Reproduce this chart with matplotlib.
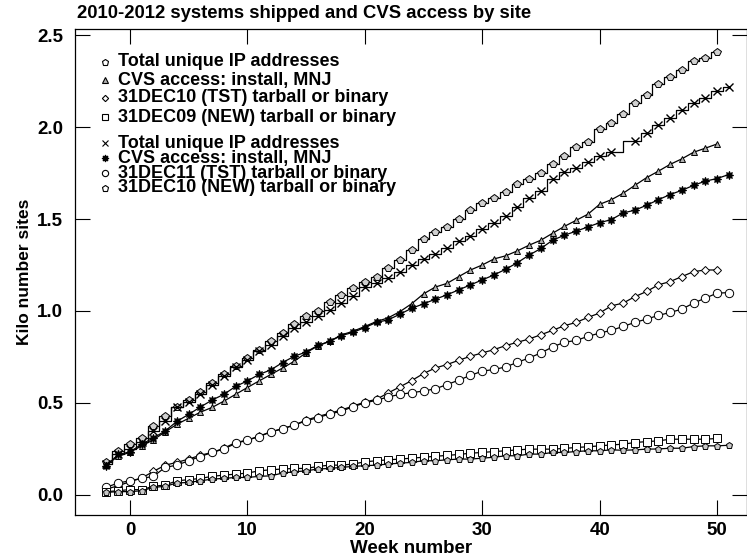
import matplotlib
matplotlib.use("Agg")
import matplotlib.pyplot as plt
import numpy as np

plt.rcParams["font.family"] = ["Liberation Sans", "DejaVu Sans"]
plt.rcParams["font.weight"] = "bold"

# weeks
weeks_a = list(range(-2, 51))
weeks_b = list(range(-2, 42)) + list(range(43, 52))
weeks_c = list(range(-2, 51))
weeks_d = list(range(-2, 52))
weeks_e = list(range(-2, 51))
weeks_f = list(range(-2, 52))
weeks_g = list(range(-2, 51))
weeks_h = list(range(-2, 52))

# Total unique IP addresses (set 1, pentagon, histogram style)
total_ip_1 = [0.18, 0.24, 0.275, 0.31, 0.375, 0.43, 0.48, 0.515, 0.557, 0.606,
              0.655, 0.70, 0.745, 0.79, 0.835, 0.88, 0.93, 0.975, 1.00, 1.05,
              1.088, 1.125, 1.16, 1.187, 1.234, 1.277, 1.33, 1.39, 1.43, 1.457,
              1.50, 1.55, 1.585, 1.614, 1.646, 1.69, 1.72, 1.75, 1.80, 1.84,
              1.89, 1.92, 1.99, 2.02, 2.07, 2.13, 2.175, 2.235, 2.27, 2.31,
              2.36, 2.377, 2.41]
# Total unique IP addresses (set 2, x, histogram style)
total_ip_2 = [0.17, 0.22, 0.25, 0.29, 0.35, 0.40, 0.476, 0.505, 0.547, 0.60,
              0.645, 0.698, 0.736, 0.78, 0.817, 0.866, 0.91, 0.938, 0.974, 1.003,
              1.044, 1.082, 1.13, 1.154, 1.18, 1.214, 1.25, 1.28, 1.31, 1.34,
              1.38, 1.407, 1.445, 1.48, 1.515, 1.564, 1.614, 1.652, 1.715, 1.753,
              1.78, 1.81, 1.84, 1.863, 1.926, 1.97, 2.013, 2.05, 2.09, 2.13,
              2.16, 2.197, 2.22]
# CVS access: install, MNJ (set 1, triangle)
cvs_1 = [0.165, 0.21, 0.232, 0.267, 0.30, 0.343, 0.384, 0.417, 0.45, 0.476,
         0.51, 0.547, 0.584, 0.62, 0.655, 0.69, 0.727, 0.773, 0.81, 0.835,
         0.87, 0.89, 0.916, 0.943, 0.963, 0.997, 1.04, 1.093, 1.13, 1.15,
         1.187, 1.223, 1.25, 1.283, 1.30, 1.327, 1.358, 1.385, 1.423, 1.46,
         1.493, 1.526, 1.58, 1.605, 1.64, 1.683, 1.725, 1.76, 1.797, 1.827,
         1.863, 1.885, 1.908]
# CVS access: install, MNJ (set 2, filled star)
cvs_2 = [0.16, 0.22, 0.234, 0.276, 0.31, 0.348, 0.40, 0.438, 0.478, 0.516,
         0.547, 0.59, 0.62, 0.655, 0.68, 0.72, 0.754, 0.777, 0.813, 0.835,
         0.866, 0.884, 0.91, 0.938, 0.952, 0.983, 1.015, 1.039, 1.064, 1.088,
         1.115, 1.142, 1.169, 1.196, 1.227, 1.263, 1.304, 1.34, 1.385, 1.412,
         1.434, 1.457, 1.48, 1.497, 1.533, 1.548, 1.575, 1.605, 1.633, 1.656,
         1.683, 1.706, 1.72, 1.742]
# 31DEC10 (TST) tarball or binary (diamond)
tst10 = [0.032, 0.05, 0.072, 0.092, 0.128, 0.162, 0.177, 0.195, 0.216, 0.231,
         0.254, 0.285, 0.298, 0.32, 0.343, 0.36, 0.38, 0.407, 0.426, 0.444,
         0.462, 0.483, 0.505, 0.52, 0.555, 0.588, 0.622, 0.66, 0.69, 0.709,
         0.732, 0.754, 0.772, 0.79, 0.812, 0.83, 0.848, 0.871, 0.895, 0.92,
         0.938, 0.965, 0.989, 1.028, 1.043, 1.078, 1.106, 1.142, 1.16, 1.187,
         1.214, 1.223, 1.223]
# 31DEC11 (TST) tarball or binary (circle)
tst11 = [0.042, 0.065, 0.077, 0.09, 0.101, 0.15, 0.162, 0.186, 0.209, 0.231,
         0.25, 0.28, 0.298, 0.317, 0.343, 0.36, 0.38, 0.403, 0.42, 0.44,
         0.455, 0.48, 0.50, 0.515, 0.533, 0.547, 0.556, 0.565, 0.577, 0.60,
         0.624, 0.65, 0.673, 0.682, 0.696, 0.721, 0.745, 0.772, 0.805, 0.83,
         0.84, 0.862, 0.88, 0.895, 0.916, 0.938, 0.956, 0.976, 0.992, 1.01,
         1.043, 1.07, 1.097, 1.10]
# 31DEC09 (NEW) tarball or binary (square)
new09 = [0.018, 0.023, 0.029, 0.029, 0.047, 0.054, 0.077, 0.083, 0.09, 0.101,
         0.108, 0.113, 0.119, 0.131, 0.137, 0.141, 0.144, 0.144, 0.155, 0.162,
         0.162, 0.168, 0.18, 0.186, 0.191, 0.195, 0.2, 0.205, 0.21, 0.215,
         0.22, 0.227, 0.231, 0.236, 0.24, 0.245, 0.249, 0.249, 0.249, 0.253,
         0.258, 0.262, 0.267, 0.272, 0.276, 0.285, 0.29, 0.294, 0.303, 0.303,
         0.303, 0.303, 0.307]
# 31DEC10 (NEW) tarball or binary (small pentagon)
new10 = [0.014, 0.018, 0.018, 0.023, 0.041, 0.047, 0.065, 0.068, 0.077, 0.086,
         0.09, 0.095, 0.095, 0.101, 0.104, 0.119, 0.126, 0.131, 0.141, 0.144,
         0.15, 0.155, 0.159, 0.162, 0.168, 0.173, 0.177, 0.186, 0.186, 0.191,
         0.195, 0.195, 0.2, 0.205, 0.213, 0.213, 0.222, 0.222, 0.231, 0.231,
         0.236, 0.24, 0.24, 0.245, 0.243, 0.245, 0.249, 0.25, 0.254, 0.254,
         0.263, 0.267, 0.267, 0.27]

legend_1 = ["Total unique IP addresses", "CVS access: install, MNJ",
            "31DEC10 (TST) tarball or binary", "31DEC09 (NEW) tarball or binary"]
legend_2 = ["Total unique IP addresses", "CVS access: install, MNJ",
            "31DEC11 (TST) tarball or binary", "31DEC10 (NEW) tarball or binary"]

W, H = 747, 556
fig = plt.figure(figsize=(W / 100, H / 100), dpi=100)
ax = fig.add_axes([75 / W, 1 - 515 / H, 672 / W, 486 / H])

lw = 0.9
mk = dict(color="black", lw=lw, mec="black", mew=0.7)

ax.plot(weeks_a, total_ip_1, drawstyle="steps-mid", color="black", lw=lw)
ax.plot(weeks_a, total_ip_1, ls="none", marker="p", ms=5.5, mfc="#d0d0d0", mec="black", mew=0.7)
ax.plot(weeks_b, total_ip_2, drawstyle="steps-mid", color="black", lw=lw)
ax.plot(weeks_b, total_ip_2, ls="none", marker="x", ms=6, mec="black", mew=1.0)
ax.plot(weeks_c, cvs_1, marker="^", ms=4.5, mfc="#b0b0b0", **mk)
ax.plot(weeks_d, cvs_2, marker=(8, 1, 0), ms=6, mfc="black", **mk)
ax.plot(weeks_e, tst10, marker="D", ms=3.8, mfc="white", **mk)
ax.plot(weeks_f, tst11, marker="o", ms=6, mfc="white", **mk)
ax.plot(weeks_g, new09, marker="s", ms=5.5, mfc="white", **mk)
ax.plot(weeks_h, new10, marker="p", ms=5, mfc="#c8c8c8", **mk)

# legend blocks drawn as text with symbols
leg_marks_1 = [dict(marker="p", ms=4.5, mfc="white"), dict(marker="^", ms=4, mfc="#b0b0b0"),
               dict(marker="D", ms=3.2, mfc="white"), dict(marker="s", ms=4.5, mfc="white")]
leg_marks_2 = [dict(marker="x", ms=4.5), dict(marker=(8, 1, 0), ms=5, mfc="black"),
               dict(marker="o", ms=4.5, mfc="white"), dict(marker="p", ms=4.5, mfc="white")]
ys_1 = [62, 80, 98, 117]
ys_2 = [143, 158, 173, 188]
for labels, marks, ys in [(legend_1, leg_marks_1, ys_1), (legend_2, leg_marks_2, ys_2)]:
    for lab, m, y in zip(labels, marks, ys):
        fy = 1 - y / H
        fig.lines.append(plt.Line2D([105 / W], [fy], transform=fig.transFigure, ls="none",
                                    mec="black", mew=0.8, color="black", **m))
        fig.text(118 / W, fy, lab, fontsize=13, fontweight="bold", va="center", ha="left")

ax.set_xlim(-4.68, 52.55)
ax.set_ylim(-0.109, 2.533)
ax.set_xticks([0, 10, 20, 30, 40, 50])
ax.set_yticks([0.0, 0.5, 1.0, 1.5, 2.0, 2.5])
ax.set_yticklabels(["0.0", "0.5", "1.0", "1.5", "2.0", "2.5"])
ax.tick_params(axis="x", direction="in", length=11, width=0.8, top=True, labelsize=13.5, pad=5)
ax.tick_params(axis="y", direction="in", length=10.5, width=0.8, right=True, labelsize=13.5, pad=8.5)
for lab in ax.get_xticklabels() + ax.get_yticklabels():
    lab.set_fontweight("bold")
for s in ax.spines.values():
    s.set_linewidth(0.9)

fig.text(77 / W, 1 - 14 / H, "2010-2012 systems shipped and CVS access by site",
         fontsize=13.3, fontweight="bold", ha="left", va="center")
ax.set_xlabel("Week number", fontsize=13.5, fontweight="bold", labelpad=0.5)
ax.set_ylabel("Kilo number sites", fontsize=12.5, fontweight="bold", labelpad=4)

fig.savefig("out.png", dpi=100)
